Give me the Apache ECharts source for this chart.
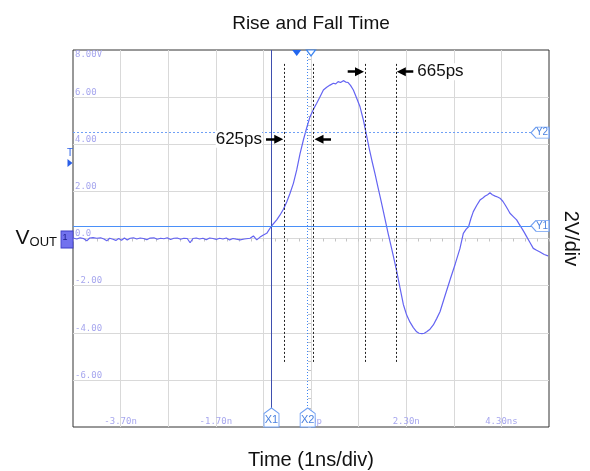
<!DOCTYPE html>
<html><head><meta charset="utf-8">
<script src="https://cdn.jsdelivr.net/npm/echarts@6/dist/echarts.min.js"></script>
<style>html,body{margin:0;padding:0;background:#fff}#c{width:590px;height:471px}</style>
</head><body><div id="c"></div>
<script>
// ---- screen / axis definition (time in ns, voltage in V) ----
const T_LEFT = -4.7;
const T_RIGHT = 5.3;
const xTickLabels = ['', '-3.70n', '', '-1.70n', '', '300p', '', '2.30n', '', '4.30ns', ''];
const yTickValues = [8, 6, 4, 2, 0, -2, -4, -6, -8];
const yTickLabels = ['8.00V', '6.00', '4.00', '2.00', '0.0', '-2.00', '-4.00', '-6.00', ''];

// ---- waveform ----
const times = [-4.70,-4.62,-4.55,-4.48,-4.41,-4.35,-4.28,-4.20,-4.12,-4.05,-3.99,-3.93,-3.86,-3.80,-3.74,-3.68,-3.62,-3.56,-3.50,-3.43,-3.36,-3.29,-3.22,-3.15,-3.08,-3.00,-2.93,-2.86,-2.79,-2.72,-2.65,-2.58,-2.51,-2.44,-2.37,-2.30,-2.24,-2.18,-2.11,-2.04,-1.97,-1.90,-1.83,-1.76,-1.69,-1.62,-1.55,-1.48,-1.41,-1.34,-1.27,-1.19,-1.10,-0.98,-0.91,-0.84,-0.77,-0.70,-0.63,-0.53,-0.42,-0.35,-0.28,-0.21,-0.14,-0.07,0.00,0.07,0.14,0.21,0.28,0.35,0.42,0.49,0.56,0.63,0.70,0.77,0.82,0.87,0.92,0.98,1.03,1.08,1.13,1.19,1.26,1.33,1.40,1.47,1.52,1.58,1.65,1.71,1.76,1.82,1.87,1.92,1.98,2.03,2.10,2.17,2.24,2.31,2.38,2.45,2.52,2.57,2.63,2.68,2.73,2.80,2.87,2.94,3.01,3.12,3.22,3.33,3.43,3.50,3.56,3.61,3.66,3.71,3.78,3.85,3.91,3.96,4.01,4.06,4.11,4.17,4.22,4.27,4.33,4.38,4.43,4.48,4.55,4.62,4.67,4.73,4.78,4.83,4.90,4.97,5.04,5.11,5.20,5.28];
const volts = [0.02,-0.02,0.03,0.00,-0.10,0.02,0.04,0.01,0.03,-0.02,-0.10,0.01,-0.03,-0.08,0.00,-0.07,0.02,-0.06,0.01,0.03,-0.02,0.02,0.00,-0.05,0.02,0.03,-0.03,0.01,-0.01,0.03,-0.04,0.01,0.02,-0.03,0.01,0.00,-0.18,0.00,0.02,-0.02,0.01,-0.05,0.02,0.00,-0.04,0.01,-0.02,0.02,-0.06,0.00,-0.03,-0.06,-0.02,0.01,0.11,-0.06,0.06,0.15,0.22,0.53,0.79,1.00,1.24,1.55,1.92,2.34,2.91,3.60,4.18,4.70,5.17,5.48,5.74,6.02,6.30,6.42,6.51,6.59,6.56,6.66,6.62,6.70,6.64,6.62,6.50,6.30,5.95,5.59,5.03,4.35,3.85,3.30,2.70,2.15,1.70,1.15,0.68,0.22,-0.30,-0.75,-1.38,-2.10,-2.80,-3.25,-3.55,-3.78,-3.96,-4.02,-4.04,-4.02,-3.96,-3.85,-3.67,-3.40,-3.11,-2.40,-1.76,-1.08,-0.42,0.22,0.40,0.50,0.85,1.14,1.40,1.63,1.72,1.80,1.86,1.94,1.86,1.80,1.76,1.71,1.58,1.42,1.25,1.07,0.93,0.79,0.62,0.43,0.26,0.08,-0.17,-0.42,-0.50,-0.57,-0.68,-0.74];

// ---- cursors & measurement annotations ----
const cursorXNames = ['X1', 'X2'];
const cursorX = [-0.53, 0.23];
const cursorYNames = ['Y1', 'Y2'];
const cursorY = [0.54, 4.49];
const measureTimes = [-0.27, 0.34, 1.44, 2.10];
const measureTop = 7.41;
const measureBottom = -5.33;
const arrowStart = [-0.645, 0.72, 1.071, 2.449];
const arrowEnd = [-0.377, 0.468, 1.319, 2.197];
const arrowVolt = [4.21, 4.21, 7.08, 7.08];
const arrowText = ['625ps', '', '', '665ps'];
const triggerTime = 0.0;
const delayRefTime = 0.3;
const triggerLevel = 3.2;

const X = t => +(t - T_LEFT).toFixed(4);
const yLabelFor = v => { const i = yTickValues.indexOf(Math.round(v)); return i >= 0 ? yTickLabels[i] : ''; };

const FONT = 'Liberation Sans, Arial, sans-serif';
const MONO = 'DejaVu Sans Mono, monospace';
const LBL = '#a6a6ee';
const GRIDC = '#d9d9d9';
const TICKC = '#c4c4c4';

const pentUp = 'path://M0,5.6 L7,0 L14,5.6 L14,19 L0,19 Z';
const pentLeft = 'path://M0,5.5 L5,0 L18,0 L18,11 L5,11 Z';
const triDown = 'path://M0,0 L10,0 L5,6 Z';
const triRight = 'path://M0,0 L6,4 L0,8 Z';

const chart = echarts.init(document.getElementById('c'), null, {renderer: 'canvas'});
const option = {
  animation: false,
  grid: {left: 73, right: 41, top: 50, bottom: 44, show: true, borderColor: '#333', borderWidth: 1,
         backgroundColor: 'transparent', containLabel: false, outerBoundsMode: 'none'},
  xAxis: [
    {type: 'value', min: 0, max: X(T_RIGHT), interval: 1, position: 'bottom',
     axisLine: {show: false, onZero: false}, axisTick: {show: false},
     splitLine: {show: true, showMinLine: false, showMaxLine: false, lineStyle: {color: GRIDC, width: 1}},
     axisLabel: {inside: true, margin: 1, color: LBL, fontFamily: MONO, fontSize: 9, showMinLabel: true, showMaxLabel: true,
       formatter: v => xTickLabels[Math.round(v)] || ''},
     name: 'Time (1ns/div)', nameLocation: 'middle', nameGap: 23,
     nameTextStyle: {fontFamily: FONT, fontSize: 20, color: '#111'}},
    {type: 'value', min: 0, max: X(T_RIGHT), interval: 1, position: 'bottom',
     axisLine: {show: false, onZero: true, onZeroAxisIndex: 0},
     axisTick: {show: true, length: 3, lineStyle: {color: TICKC}},
     minorTick: {show: true, splitNumber: 4, length: 3, lineStyle: {color: TICKC}},
     axisLabel: {show: false}, splitLine: {show: false}},
    {type: 'value', min: 0, max: X(T_RIGHT), interval: 1, position: 'top',
     axisLine: {show: false, onZero: false}, axisTick: {show: false}, axisLabel: {show: false}, splitLine: {show: false},
     name: 'Rise and Fall Time', nameLocation: 'middle', nameGap: 17,
     nameTextStyle: {fontFamily: FONT, fontSize: 19, color: '#111'}}
  ],
  yAxis: [
    {type: 'value', min: -8, max: 8, interval: 2, position: 'left',
     axisLine: {show: false, onZero: false}, axisTick: {show: false},
     splitLine: {show: true, showMinLine: false, showMaxLine: false, lineStyle: {color: GRIDC, width: 1}},
     axisLabel: {inside: true, margin: 2, verticalAlign: 'bottom', color: LBL, fontFamily: MONO, fontSize: 9,
       showMinLabel: true, showMaxLabel: true, formatter: v => (Math.round(v) === 8 ? '' : yLabelFor(v))},
     name: '{v|V}{s|OUT}', nameLocation: 'middle', nameRotate: 0, nameGap: 16,
     nameTextStyle: {rich: {
       v: {fontFamily: FONT, fontSize: 21, color: '#111', verticalAlign: 'bottom'},
       s: {fontFamily: FONT, fontSize: 13, color: '#111', verticalAlign: 'bottom'}}}},
    {type: 'value', min: -8, max: 8, interval: 2, position: 'left',
     axisLine: {show: false, onZero: false}, axisTick: {show: false}, splitLine: {show: false},
     axisLabel: {inside: true, margin: 2, verticalAlign: 'top', color: LBL, fontFamily: MONO, fontSize: 9,
       showMaxLabel: true, formatter: v => (Math.round(v) === 8 ? yLabelFor(v) : '')}},
    {type: 'value', min: -8, max: 8, interval: 2, position: 'right',
     axisLine: {show: false, onZero: false}, axisTick: {show: false}, splitLine: {show: false}, axisLabel: {show: false},
     name: '2V/div', nameLocation: 'middle', nameRotate: -90, nameGap: 12,
     nameTextStyle: {fontFamily: FONT, fontSize: 20, color: '#111'}},
    {type: 'value', min: -8, max: 8, interval: 2, position: 'left', offset: -238,
     axisLine: {show: false, onZero: false},
     axisTick: {show: true, length: 3, lineStyle: {color: TICKC}},
     minorTick: {show: true, splitNumber: 5, length: 3, lineStyle: {color: TICKC}},
     splitLine: {show: false}, axisLabel: {show: false}}
  ],
  series: [
    {name: 'cursors', type: 'line', data: [], z: 2, silent: true,
     markLine: {silent: true, symbol: ['none', 'none'], label: {show: false}, animation: false,
       data: [
         {xAxis: X(cursorX[0]), lineStyle: {color: '#3f4fae', type: 'solid', width: 1}},
         {xAxis: X(cursorX[1]), lineStyle: {color: '#3d86f5', type: [1, 2], width: 1}},
         {yAxis: cursorY[0], lineStyle: {color: '#4a90f8', type: 'solid', width: 1}},
         {yAxis: cursorY[1], lineStyle: {color: '#6fa0f6', type: [2, 2], width: 1}}
       ]}},
    {name: 'Vout', type: 'line', z: 3, showSymbol: false, silent: true,
     data: times.map((t, i) => [X(t), volts[i]]),
     lineStyle: {color: '#6464f2', width: 1.2}},
    {name: 'measure', type: 'line', data: [], z: 4, silent: true,
     markLine: {silent: true, symbol: ['none', 'none'], label: {show: false}, animation: false,
       lineStyle: {color: '#222', type: [2, 2], width: 1},
       data: measureTimes.map(t => [{coord: [X(t), measureTop]}, {coord: [X(t), measureBottom]}])}},
    {name: 'arrows', type: 'line', data: [], z: 5, silent: true,
     markLine: {silent: true, symbol: ['none', 'triangle'], symbolSize: 9, animation: false,
       lineStyle: {color: '#000', type: 'solid', width: 2.5},
       data: arrowStart.map((s, i) => {
         const lab = arrowText[i]
           ? {show: true, position: 'start', distance: 4, formatter: arrowText[i], fontFamily: FONT, fontSize: 17, color: '#111', backgroundColor: '#fff'}
           : {show: false};
         return [{coord: [X(s), arrowVolt[i]], label: lab}, {coord: [X(arrowEnd[i]), arrowVolt[i]], label: lab}];
       })}},
    {name: 'markers', type: 'line', data: [], z: 6, silent: true,
     markPoint: {silent: true, animation: false,
       data: [
         ...cursorX.map((t, i) => ({coord: [X(t), -8], symbol: pentUp, symbolSize: [15, 19], symbolOffset: [0, -9.5],
           itemStyle: {color: '#fff', borderColor: '#6f9ff2', borderWidth: 1},
           label: {show: true, formatter: cursorXNames[i], position: 'inside', offset: [0, 2], color: '#4a82e0', fontFamily: FONT, fontSize: 11}})),
         ...cursorY.map((v, i) => ({coord: [X(T_RIGHT), v], symbol: pentLeft, symbolSize: [18, 11], symbolOffset: [-9, 0],
           itemStyle: {color: '#fff', borderColor: '#6f9ff2', borderWidth: 1},
           label: {show: true, formatter: cursorYNames[i], position: 'inside', offset: [2, 0], color: '#4a82e0', fontFamily: FONT, fontSize: 10}})),
         {coord: [X(triggerTime), 8], symbol: triDown, symbolSize: [9, 6], symbolOffset: [0, 3],
          itemStyle: {color: '#2266ee'}, label: {show: false}},
         {coord: [X(delayRefTime), 8], symbol: triDown, symbolSize: [9, 6], symbolOffset: [0, 3],
          itemStyle: {color: '#fff', borderColor: '#3f86f0', borderWidth: 1.2}, label: {show: false}},
         {coord: [0, triggerLevel], symbol: triRight, symbolSize: [5, 8], symbolOffset: [-3, 0],
          itemStyle: {color: '#2a5fe8'},
          label: {show: true, formatter: 'T', position: 'top', distance: 1, color: '#2a5fe8', fontFamily: FONT, fontSize: 10}},
         {coord: [0, 0], symbol: 'rect', symbolSize: [12, 17], symbolOffset: [-6, 1],
          itemStyle: {color: '#7272ee', borderColor: '#3d3dc8', borderWidth: 1},
          label: {show: true, formatter: '1', position: 'inside', offset: [-2, -2], color: '#1a1a8a', fontFamily: FONT, fontSize: 9}}
       ]}}
  ]
};
chart.setOption(option);
</script></body></html>
